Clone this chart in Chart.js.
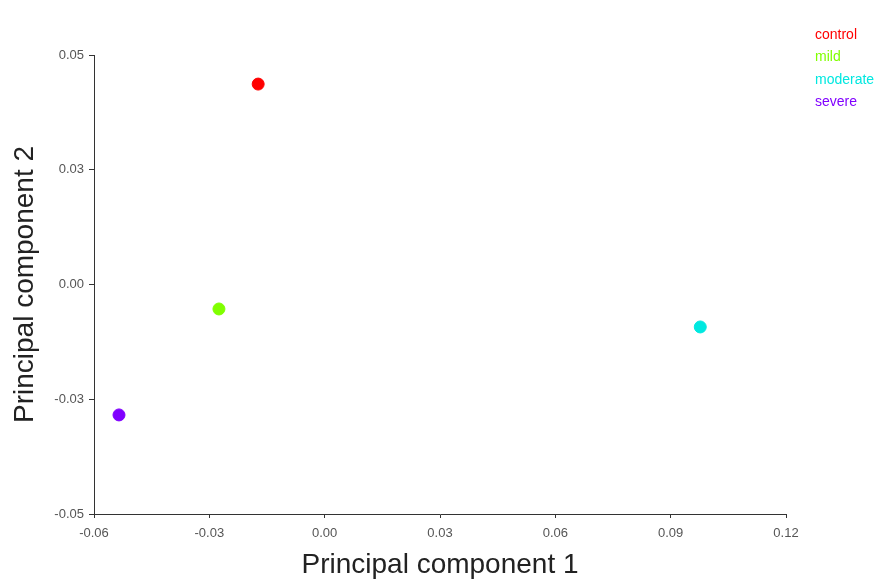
<!DOCTYPE html>
<html>
<head>
    <title>PCA scatter</title>
    <style>
        html, body { margin: 0; padding: 0; background: #fff; }
        #wrap { width: 878px; height: 584px; }
    </style>
    <script src="https://cdn.jsdelivr.net/npm/chart.js@4"></script>
</head>
<body>
    <div id="wrap"><canvas id="pca" width="878" height="584"></canvas></div>

    <script>
        // data
        const groups = ['control', 'mild', 'moderate', 'severe'];
        const pc1 = [-0.0173, -0.0275, 0.0977, -0.0535];
        const pc2 = [0.0524, -0.0064, -0.0111, -0.0341];
        const colors = ['#ff0000', '#80ff00', '#00e8e0', '#8000ff'];

        const xTicks = [-0.06, -0.03, 0.00, 0.03, 0.06, 0.09, 0.12];
        const xTickLabels = ['-0.06', '-0.03', '0.00', '0.03', '0.06', '0.09', '0.12'];
        const yTicks = [-0.06, -0.03, 0.00, 0.03, 0.06];
        const yTickLabels = ['-0.05', '-0.03', '0.00', '0.03', '0.05'];

        const textLegend = {
            id: 'textLegend',
            afterDraw(chart) {
                const c = chart.ctx;
                c.save();
                c.font = '14px "Liberation Sans", Arial, sans-serif';
                c.textBaseline = 'middle';
                chart.data.datasets.forEach((ds, i) => {
                    c.fillStyle = ds.backgroundColor;
                    c.fillText(ds.label, 815, 35 + i * 22.5);
                });
                c.restore();
            }
        };

        const tickFont = { family: '"Liberation Sans", Arial, sans-serif', size: 13 };
        const titleFont = { family: '"Liberation Sans", Arial, sans-serif', size: 28 };

        new Chart(document.getElementById('pca'), {
            type: 'scatter',
            data: {
                datasets: groups.map((g, i) => ({
                    label: g,
                    data: [{ x: pc1[i], y: pc2[i] }],
                    backgroundColor: colors[i],
                    borderColor: colors[i],
                    pointRadius: 6,
                    pointHoverRadius: 6
                }))
            },
            options: {
                responsive: false,
                animation: false,
                layout: { padding: { top: 55, right: 92, bottom: 0, left: 0 } },
                plugins: { legend: { display: false }, tooltip: { enabled: false } },
                scales: {
                    x: {
                        type: 'linear',
                        min: -0.06, max: 0.12,
                        afterBuildTicks: s => { s.ticks = xTicks.map(v => ({ value: v })); },
                        afterFit: s => { s.height = 70; },
                        ticks: {
                            callback: (v, i) => xTickLabels[i],
                            font: tickFont, color: '#555', padding: 8, maxRotation: 0
                        },
                        grid: { drawOnChartArea: false, tickLength: 4, color: '#333' },
                        border: { color: '#333', width: 1 },
                        title: {
                            display: true, text: 'Principal component 1',
                            font: titleFont, color: '#222', padding: { top: 0, bottom: 2 }
                        }
                    },
                    y: {
                        type: 'linear',
                        min: -0.06, max: 0.06,
                        afterBuildTicks: s => { s.ticks = yTicks.map(v => ({ value: v })); },
                        afterFit: s => { s.width = 94; },
                        ticks: {
                            callback: (v, i) => yTickLabels[i],
                            font: tickFont, color: '#555', padding: 5
                        },
                        grid: { drawOnChartArea: false, tickLength: 5, color: '#333' },
                        border: { color: '#333', width: 1 },
                        title: {
                            display: true, text: 'Principal component 2',
                            font: titleFont, color: '#222', padding: { top: 8, bottom: 0 }
                        }
                    }
                }
            },
            plugins: [textLegend]
        });
    </script>
</body>
</html>
